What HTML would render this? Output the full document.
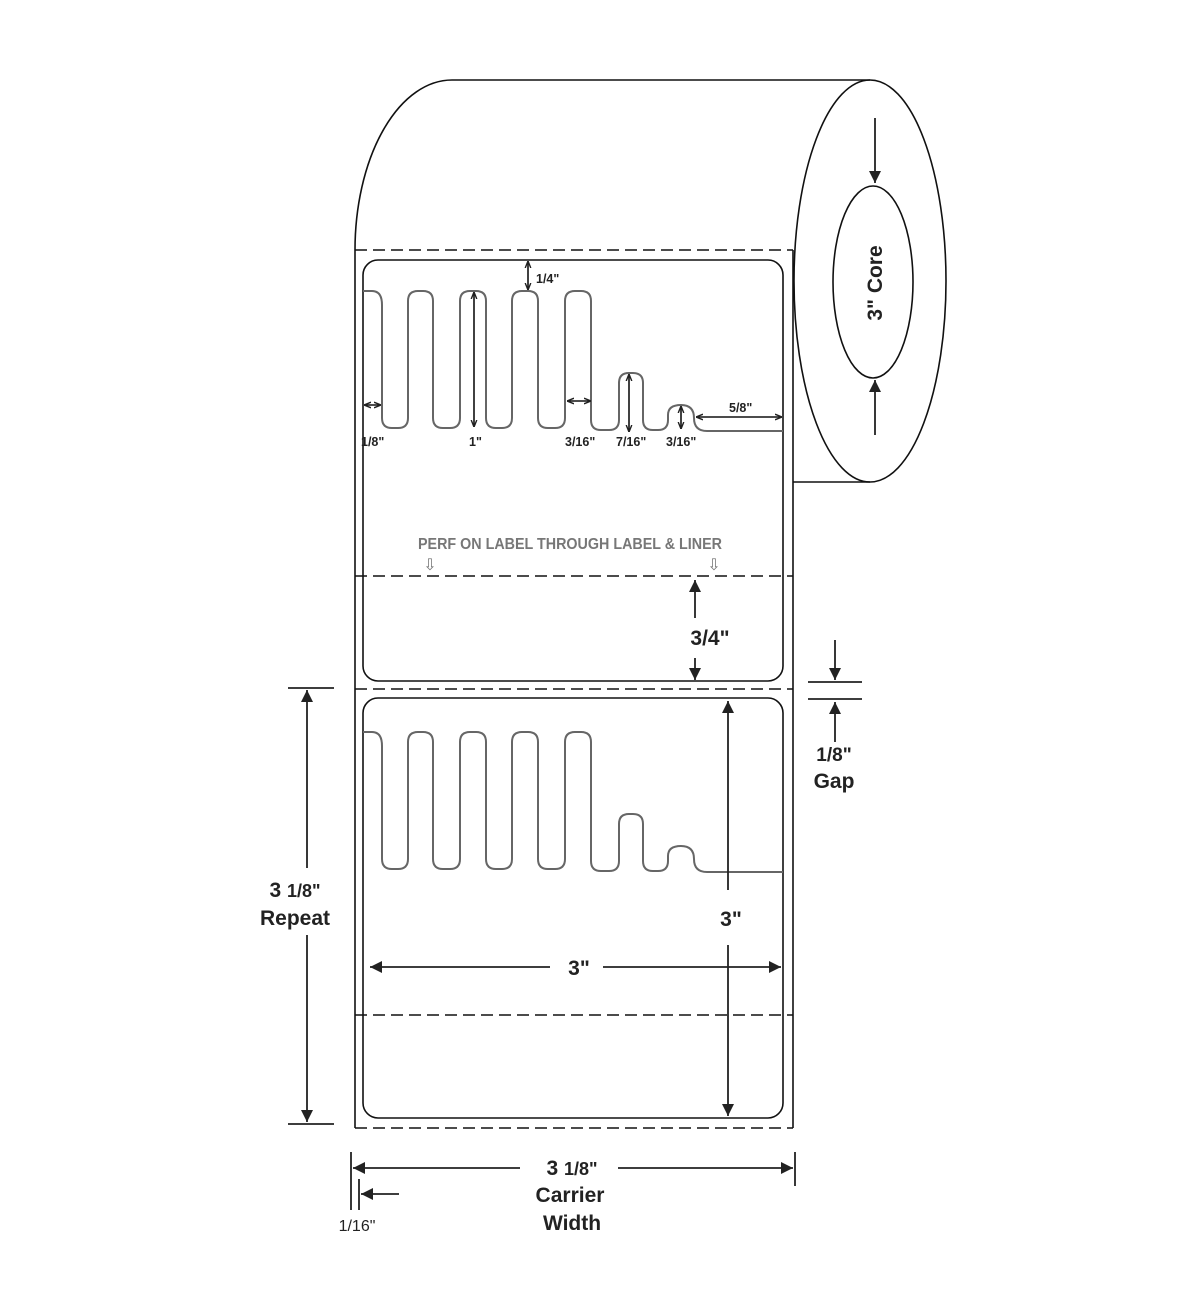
<!DOCTYPE html>
<html><head><meta charset="utf-8"><style>
html,body{margin:0;padding:0;background:#fff;}
svg{display:block;}
text{font-family:"Liberation Sans",Arial,sans-serif;font-weight:bold;fill:#222;}
</style></head><body>
<svg width="1200" height="1314" viewBox="0 0 1200 1314" xmlns="http://www.w3.org/2000/svg">
<defs>
<marker id="as" viewBox="0 0 10 10" refX="10" refY="5" markerWidth="7" markerHeight="7" markerUnits="userSpaceOnUse" orient="auto-start-reverse"><path d="M0,1 L10,5 L0,9" fill="none" stroke="#222" stroke-width="2"/></marker>
<marker id="ab" viewBox="0 0 10 10" refX="10" refY="5" markerWidth="12" markerHeight="14" markerUnits="userSpaceOnUse" orient="auto-start-reverse"><path d="M0,0 L10,5 L0,10 Z" fill="#222"/></marker>
</defs>
<g fill="none" stroke="#111" stroke-width="1.6">
<path d="M355,250 A97,170 0 0 1 452,80 L870,80"/>
<ellipse cx="870" cy="281" rx="76" ry="201"/>
<ellipse cx="873" cy="282" rx="40" ry="96"/>
<line x1="793" y1="482" x2="870" y2="482"/>
<line x1="355" y1="250" x2="355" y2="1128"/>
<line x1="793" y1="250" x2="793" y2="1128"/>
<g stroke-dasharray="12,6" stroke-width="1.4">
<line x1="355" y1="250" x2="793" y2="250"/>
<line x1="355" y1="576" x2="793" y2="576"/>
<line x1="355" y1="689" x2="793" y2="689"/>
<line x1="355" y1="1015" x2="793" y2="1015"/>
<line x1="355" y1="1128" x2="793" y2="1128"/>
</g>
<rect x="363" y="260" width="420" height="421" rx="15"/>
<rect x="363" y="698" width="420" height="420" rx="15"/>
</g>
<g fill="none" stroke="#666" stroke-width="2">
<path d="M363,291 L372,291 Q382,291 382,305 L382,418 Q382,428 392,428 L398,428 Q408,428 408,418 L408,301 Q408,291 418,291 L423,291 Q433,291 433,301 L433,418 Q433,428 443,428 L450,428 Q460,428 460,418 L460,301 Q460,291 470,291 L476,291 Q486,291 486,301 L486,418 Q486,428 496,428 L502,428 Q512,428 512,418 L512,301 Q512,291 522,291 L528,291 Q538,291 538,301 L538,418 Q538,428 548,428 L555,428 Q565,428 565,418 L565,301 Q565,291 575,291 L581,291 Q591,291 591,301 L591,420 Q591,430 601,430 L609,430 Q619,430 619,420 L619,383 Q619,373 629,373 L633,373 Q643,373 643,383 L643,420 Q643,430 653,430 L658,430 Q668,430 668,420 L668,415 Q668,405 681,405 Q694,405 694,418 Q694,431 707,431 L783,431"/>
<path transform="translate(0,441)" d="M363,291 L372,291 Q382,291 382,305 L382,418 Q382,428 392,428 L398,428 Q408,428 408,418 L408,301 Q408,291 418,291 L423,291 Q433,291 433,301 L433,418 Q433,428 443,428 L450,428 Q460,428 460,418 L460,301 Q460,291 470,291 L476,291 Q486,291 486,301 L486,418 Q486,428 496,428 L502,428 Q512,428 512,418 L512,301 Q512,291 522,291 L528,291 Q538,291 538,301 L538,418 Q538,428 548,428 L555,428 Q565,428 565,418 L565,301 Q565,291 575,291 L581,291 Q591,291 591,301 L591,420 Q591,430 601,430 L609,430 Q619,430 619,420 L619,383 Q619,373 629,373 L633,373 Q643,373 643,383 L643,420 Q643,430 653,430 L658,430 Q668,430 668,420 L668,415 Q668,405 681,405 Q694,405 694,418 Q694,431 707,431 L783,431"/>
</g>
<g stroke="#111" stroke-width="1.6" fill="none">
<line x1="528" y1="261" x2="528" y2="290" marker-start="url(#as)" marker-end="url(#as)"/>
<line x1="364" y1="405" x2="381" y2="405" marker-start="url(#as)" marker-end="url(#as)"/>
<line x1="474" y1="292" x2="474" y2="427" marker-start="url(#as)" marker-end="url(#as)"/>
<line x1="567" y1="401" x2="591" y2="401" marker-start="url(#as)" marker-end="url(#as)"/>
<line x1="629" y1="374" x2="629" y2="432" marker-start="url(#as)" marker-end="url(#as)"/>
<line x1="681" y1="406" x2="681" y2="429" marker-start="url(#as)" marker-end="url(#as)"/>
<line x1="696" y1="417" x2="782" y2="417" marker-start="url(#as)" marker-end="url(#as)"/>
</g>
<g font-size="12.5">
<text x="536" y="283">1/4"</text>
<text x="361" y="446">1/8"</text>
<text x="469" y="446">1"</text>
<text x="565" y="446">3/16"</text>
<text x="616" y="446">7/16"</text>
<text x="666" y="446">3/16"</text>
<text x="729" y="412">5/8"</text>
</g>
<text x="570" y="549" font-size="15.5" text-anchor="middle" style="fill:#777" textLength="304" lengthAdjust="spacingAndGlyphs">PERF ON LABEL THROUGH LABEL &amp; LINER</text>
<text x="430" y="570" font-size="16" text-anchor="middle" style="fill:#777;font-weight:normal">⇩</text>
<text x="714" y="570" font-size="16" text-anchor="middle" style="fill:#777;font-weight:normal">⇩</text>
<g stroke="#222" stroke-width="1.8" fill="none">
<line x1="875" y1="118" x2="875" y2="183" marker-end="url(#ab)"/>
<line x1="875" y1="435" x2="875" y2="380" marker-end="url(#ab)"/>
<line x1="695" y1="618" x2="695" y2="580" marker-end="url(#ab)"/>
<line x1="695" y1="658" x2="695" y2="680" marker-end="url(#ab)"/>
<line x1="835" y1="640" x2="835" y2="680" marker-end="url(#ab)"/>
<line x1="835" y1="742" x2="835" y2="702" marker-end="url(#ab)"/>
<line x1="808" y1="682" x2="862" y2="682"/>
<line x1="808" y1="699" x2="862" y2="699"/>
<line x1="288" y1="688" x2="334" y2="688"/>
<line x1="288" y1="1124" x2="334" y2="1124"/>
<line x1="307" y1="868" x2="307" y2="690" marker-end="url(#ab)"/>
<line x1="307" y1="935" x2="307" y2="1122" marker-end="url(#ab)"/>
<line x1="728" y1="890" x2="728" y2="701" marker-end="url(#ab)"/>
<line x1="728" y1="945" x2="728" y2="1116" marker-end="url(#ab)"/>
<line x1="550" y1="967" x2="370" y2="967" marker-end="url(#ab)"/>
<line x1="603" y1="967" x2="781" y2="967" marker-end="url(#ab)"/>
<line x1="351" y1="1152" x2="351" y2="1210"/>
<line x1="795" y1="1152" x2="795" y2="1186"/>
<line x1="520" y1="1168" x2="353" y2="1168" marker-end="url(#ab)"/>
<line x1="618" y1="1168" x2="793" y2="1168" marker-end="url(#ab)"/>
<line x1="359" y1="1179" x2="359" y2="1210"/>
<line x1="399" y1="1194" x2="361" y2="1194" marker-end="url(#ab)"/>
</g>
<text transform="translate(882,283) rotate(-90)" font-size="21" text-anchor="middle">3" Core</text>
<text x="710" y="645" font-size="21" text-anchor="middle">3/4"</text>
<text x="834" y="761" font-size="19" text-anchor="middle">1/8"</text>
<text x="834" y="788" font-size="21" text-anchor="middle">Gap</text>
<text x="295" y="897" font-size="21" text-anchor="middle">3 <tspan font-size="18">1/8"</tspan></text>
<text x="295" y="925" font-size="21" text-anchor="middle">Repeat</text>
<text x="731" y="926" font-size="21" text-anchor="middle">3"</text>
<text x="579" y="975" font-size="21" text-anchor="middle">3"</text>
<text x="572" y="1175" font-size="21" text-anchor="middle">3 <tspan font-size="18">1/8"</tspan></text>
<text x="570" y="1202" font-size="21" text-anchor="middle">Carrier</text>
<text x="572" y="1230" font-size="21" text-anchor="middle">Width</text>
<text x="357" y="1231" font-size="16" text-anchor="middle" style="font-weight:normal">1/16"</text>
</svg>
</body></html>
